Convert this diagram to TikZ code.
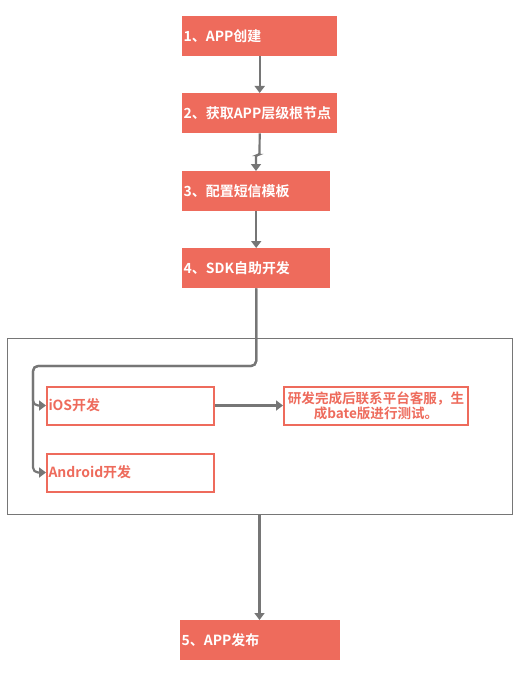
\documentclass[tikz,border=0pt]{standalone}
\usepackage{fontspec}
\setmainfont{Noto Sans CJK SC}[BoldFont={* Bold}]
\newfontfamily\cjkb{Noto Sans CJK SC Bold}
\usetikzlibrary{arrows.meta}
\definecolor{boxred}{HTML}{EE6B5C}
\definecolor{linegray}{HTML}{767676}
\tikzset{
  stepbox/.style={fill=boxred, draw=none, text=white, font=\cjkb\fontsize{14}{16}\selectfont,
    minimum height=40bp, inner xsep=1.5bp, align=left, anchor=north west},
  subbox/.style={fill=white, draw=boxred, line width=2bp, text=boxred, font=\cjkb\fontsize{14}{16}\selectfont,
    minimum height=38bp, inner xsep=1.5bp, anchor=north west},
  conn/.style={draw=linegray, line width=2.2bp, -{Triangle[width=10bp,length=7bp]}},
  frame/.style={draw=linegray, line width=1bp}
}
\begin{document}
\begin{tikzpicture}[x=1bp,y=-1bp]
\useasboundingbox (0,0) rectangle (520,676);
% container
\draw[frame] (7.5,338.5) rectangle (512,514) ;
\coordinate (contbot) at (259.5,514);
% main steps
\node[stepbox, text width=152bp] (b1) at (182,16) {1、APP创建};
\node[stepbox, text width=152bp] (b2) at (182,93) {2、获取APP层级根节点};
\node[stepbox, text width=145bp] (b3) at (182,171) {3、配置短信模板};
\node[stepbox, text width=145bp] (b4) at (182,248) {4、SDK自助开发};
\node[stepbox, text width=157bp] (b5) at (180,620) {5、APP发布};
% sub boxes
\node[subbox, text width=164bp, align=left] (ios) at (46,385.5) {iOS开发};
\node[subbox, text width=164bp, align=left] (andr) at (46,452.5) {Android开发};
\node[subbox, text width=183bp, inner xsep=0.5bp, align=center, font=\cjkb\fontsize{13.6}{15}\selectfont] (res) at (283,385.5) {研发完成后联系平台客服，生\\成bate版进行测试。};
% connectors
\draw[conn] (b1.south) -- (b2.north);
\draw[conn, rounded corners=2bp] (b2.south) -- (259.5,155) -- (256,155) -- (256,171);
\draw[conn] (b3.south) -- (b4.north);
\coordinate (turn) at (33,366);
\draw[conn, rounded corners=5bp] (b4.south) |- (turn) |- (ios.west);
\draw[conn, rounded corners=5bp] (b4.south) |- (turn) |- (andr.west);
\draw[conn] (ios.east) -- (res.west);
\draw[conn] (contbot) -- (b5.north -| contbot);
\end{tikzpicture}
\end{document}
